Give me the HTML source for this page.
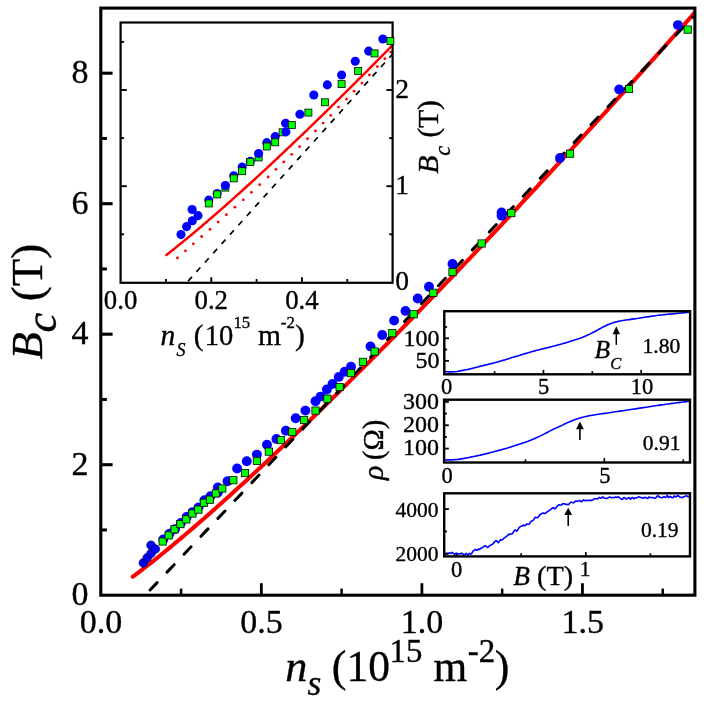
<!DOCTYPE html>
<html><head><meta charset="utf-8"><title>Bc vs ns</title>
<style>html,body{margin:0;padding:0;background:#fff;}svg{display:block;}</style>
</head><body>
<div style="will-change:transform;width:710px;height:710px;overflow:hidden">
<svg width="710" height="710" viewBox="0 0 710 710" style="font-family:'Liberation Serif',serif" fill="#000">
<style>text{stroke:#000;stroke-width:0.35px;stroke-linejoin:round}</style>
<rect x="0" y="0" width="710" height="710" fill="#fff"/>
<clipPath id="cm"><rect x="100.8" y="8.1" width="594.1" height="587.1"/></clipPath>
<g clip-path="url(#cm)">
<polyline points="132.75,576.73 134.63,575.34 136.52,573.93 138.40,572.51 140.29,571.08 142.17,569.64 144.06,568.19 145.94,566.73 147.82,565.27 149.71,563.79 151.59,562.31 153.48,560.82 155.36,559.32 157.25,557.81 159.13,556.30 161.01,554.78 162.90,553.25 164.78,551.71 166.67,550.17 168.55,548.62 170.44,547.07 172.32,545.51 174.20,543.94 176.09,542.37 177.97,540.79 179.86,539.21 181.74,537.62 183.63,536.03 185.51,534.43 187.39,532.82 189.28,531.21 191.16,529.60 193.05,527.98 194.93,526.36 196.82,524.73 198.70,523.09 200.59,521.46 202.47,519.81 204.35,518.17 206.24,516.52 208.12,514.86 210.01,513.20 211.89,511.54 213.78,509.87 215.66,508.20 217.54,506.52 219.43,504.84 221.31,503.16 223.20,501.47 225.08,499.78 226.97,498.08 228.85,496.38 230.73,494.68 232.62,492.97 234.50,491.27 236.39,489.55 238.27,487.84 240.16,486.12 242.04,484.39 243.92,482.67 245.81,480.94 247.69,479.20 249.58,477.47 251.46,475.73 253.35,473.99 255.23,472.24 257.11,470.49 259.00,468.74 260.88,466.98 262.77,465.23 264.65,463.47 266.54,461.70 268.42,459.93 270.30,458.17 272.19,456.39 274.07,454.62 275.96,452.84 277.84,451.06 279.73,449.28 281.61,447.49 283.50,445.70 285.38,443.91 287.26,442.11 289.15,440.32 291.03,438.52 292.92,436.72 294.80,434.91 296.69,433.10 298.57,431.29 300.45,429.48 302.34,427.67 304.22,425.85 306.11,424.03 307.99,422.21 309.88,420.38 311.76,418.56 313.64,416.73 315.53,414.90 317.41,413.06 319.30,411.23 321.18,409.39 323.07,407.55 324.95,405.70 326.83,403.86 328.72,402.01 330.60,400.16 332.49,398.31 334.37,396.46 336.26,394.60 338.14,392.74 340.02,390.88 341.91,389.02 343.79,387.15 345.68,385.29 347.56,383.42 349.45,381.55 351.33,379.67 353.22,377.80 355.10,375.92 356.98,374.04 358.87,372.16 360.75,370.28 362.64,368.39 364.52,366.51 366.41,364.62 368.29,362.73 370.17,360.83 372.06,358.94 373.94,357.04 375.83,355.15 377.71,353.24 379.60,351.34 381.48,349.44 383.36,347.53 385.25,345.62 387.13,343.71 389.02,341.80 390.90,339.89 392.79,337.97 394.67,336.06 396.55,334.14 398.44,332.22 400.32,330.30 402.21,328.37 404.09,326.45 405.98,324.52 407.86,322.59 409.74,320.66 411.63,318.73 413.51,316.79 415.40,314.86 417.28,312.92 419.17,310.98 421.05,309.04 422.94,307.10 424.82,305.15 426.70,303.21 428.59,301.26 430.47,299.31 432.36,297.36 434.24,295.41 436.13,293.45 438.01,291.50 439.89,289.54 441.78,287.58 443.66,285.62 445.55,283.66 447.43,281.70 449.32,279.73 451.20,277.76 453.08,275.80 454.97,273.83 456.85,271.86 458.74,269.88 460.62,267.91 462.51,265.93 464.39,263.96 466.27,261.98 468.16,260.00 470.04,258.02 471.93,256.03 473.81,254.05 475.70,252.06 477.58,250.08 479.46,248.09 481.35,246.10 483.23,244.11 485.12,242.11 487.00,240.12 488.89,238.12 490.77,236.13 492.65,234.13 494.54,232.13 496.42,230.13 498.31,228.12 500.19,226.12 502.08,224.11 503.96,222.11 505.85,220.10 507.73,218.09 509.61,216.08 511.50,214.07 513.38,212.05 515.27,210.04 517.15,208.02 519.04,206.00 520.92,203.98 522.80,201.96 524.69,199.94 526.57,197.92 528.46,195.90 530.34,193.87 532.23,191.84 534.11,189.82 535.99,187.79 537.88,185.76 539.76,183.72 541.65,181.69 543.53,179.66 545.42,177.62 547.30,175.59 549.18,173.55 551.07,171.51 552.95,169.47 554.84,167.43 556.72,165.38 558.61,163.34 560.49,161.29 562.37,159.25 564.26,157.20 566.14,155.15 568.03,153.10 569.91,151.05 571.80,149.00 573.68,146.94 575.57,144.89 577.45,142.83 579.33,140.77 581.22,138.71 583.10,136.65 584.99,134.59 586.87,132.53 588.76,130.47 590.64,128.40 592.52,126.34 594.41,124.27 596.29,122.20 598.18,120.14 600.06,118.07 601.95,115.99 603.83,113.92 605.71,111.85 607.60,109.77 609.48,107.70 611.37,105.62 613.25,103.54 615.14,101.46 617.02,99.38 618.90,97.30 620.79,95.22 622.67,93.14 624.56,91.05 626.44,88.97 628.33,86.88 630.21,84.79 632.09,82.70 633.98,80.61 635.86,78.52 637.75,76.43 639.63,74.34 641.52,72.24 643.40,70.15 645.28,68.05 647.17,65.96 649.05,63.86 650.94,61.76 652.82,59.66 654.71,57.56 656.59,55.45 658.48,53.35 660.36,51.25 662.24,49.14 664.13,47.03 666.01,44.93 667.90,42.82 669.78,40.71 671.67,38.60 673.55,36.49 675.43,34.37 677.32,32.26 679.20,30.14 681.09,28.03 682.97,25.91 684.86,23.79 686.74,21.68 688.62,19.56 690.51,17.44 692.39,15.31 694.28,13.19 696.16,11.07 698.05,8.94" fill="none" stroke="#ff0000" stroke-width="4.05" stroke-linecap="round" stroke-linejoin="round"/>
<line x1="150.11" y1="590.01" x2="769.10" y2="-63.33" stroke="#000" stroke-width="3.0" stroke-dasharray="10.2 14.46" stroke-linecap="round"/>
</g>
<rect x="100.80" y="8.10" width="594.10" height="587.10" fill="none" stroke="#000" stroke-width="3.1"/>
<line x1="181.07" y1="595.20" x2="181.07" y2="588.60" stroke="#000" stroke-width="2.5" />
<line x1="261.35" y1="595.20" x2="261.35" y2="583.20" stroke="#000" stroke-width="2.8" />
<line x1="341.62" y1="595.20" x2="341.62" y2="588.60" stroke="#000" stroke-width="2.5" />
<line x1="421.90" y1="595.20" x2="421.90" y2="583.20" stroke="#000" stroke-width="2.8" />
<line x1="502.18" y1="595.20" x2="502.18" y2="588.60" stroke="#000" stroke-width="2.5" />
<line x1="582.45" y1="595.20" x2="582.45" y2="583.20" stroke="#000" stroke-width="2.8" />
<line x1="662.73" y1="595.20" x2="662.73" y2="588.60" stroke="#000" stroke-width="2.5" />
<line x1="100.80" y1="529.95" x2="106.90" y2="529.95" stroke="#000" stroke-width="3.0" />
<line x1="100.80" y1="464.70" x2="112.60" y2="464.70" stroke="#000" stroke-width="3.1" />
<line x1="100.80" y1="399.45" x2="106.90" y2="399.45" stroke="#000" stroke-width="3.0" />
<line x1="100.80" y1="334.20" x2="112.60" y2="334.20" stroke="#000" stroke-width="3.1" />
<line x1="100.80" y1="268.95" x2="106.90" y2="268.95" stroke="#000" stroke-width="3.0" />
<line x1="100.80" y1="203.70" x2="112.60" y2="203.70" stroke="#000" stroke-width="3.1" />
<line x1="100.80" y1="138.45" x2="106.90" y2="138.45" stroke="#000" stroke-width="3.0" />
<line x1="100.80" y1="73.20" x2="112.60" y2="73.20" stroke="#000" stroke-width="3.1" />
<text x="101.00" y="632.90" font-size="34" text-anchor="middle" >0.0</text>
<text x="261.55" y="632.90" font-size="34" text-anchor="middle" >0.5</text>
<text x="422.10" y="632.90" font-size="34" text-anchor="middle" >1.0</text>
<text x="582.65" y="632.90" font-size="34" text-anchor="middle" >1.5</text>
<text x="88.40" y="605.20" font-size="34" text-anchor="end" >0</text>
<text x="88.40" y="474.70" font-size="34" text-anchor="end" >2</text>
<text x="88.40" y="344.20" font-size="34" text-anchor="end" >4</text>
<text x="88.40" y="213.70" font-size="34" text-anchor="end" >6</text>
<text x="88.40" y="83.20" font-size="34" text-anchor="end" >8</text>
<text x="285.18" y="680.60" font-size="44.2" font-style="italic">n</text>
<text x="307.41" y="694.60" font-size="35.5" font-style="italic">s</text>
<text x="331.72" y="680.60" font-size="44">(</text>
<text x="346.57" y="680.60" font-size="43.5">10</text>
<text x="389.60" y="661.70" font-size="32.8">15</text>
<text x="433.50" y="680.50" font-size="43.4">m</text>
<text x="467.75" y="661.60" font-size="33">-2</text>
<text x="494.63" y="680.60" font-size="44">)</text>
<text transform="translate(42.30,359.59) rotate(-90)" font-size="44.6" font-style="italic">B</text>
<text transform="translate(56.00,332.47) rotate(-90)" font-size="44.5" font-style="italic">c</text>
<text transform="translate(41.90,301.31) rotate(-90)" font-size="45.2">(T)</text>
<circle cx="143.35" cy="562.90" r="4.3" fill="#0000ff" stroke="#000040" stroke-width="0.7"/>
<circle cx="147.20" cy="557.80" r="4.3" fill="#0000ff" stroke="#000040" stroke-width="0.7"/>
<circle cx="151.00" cy="553.45" r="4.3" fill="#0000ff" stroke="#000040" stroke-width="0.7"/>
<circle cx="151.00" cy="545.30" r="4.3" fill="#0000ff" stroke="#000040" stroke-width="0.7"/>
<circle cx="155.35" cy="549.05" r="4.3" fill="#0000ff" stroke="#000040" stroke-width="0.7"/>
<circle cx="163.30" cy="539.40" r="4.95" fill="#0000ff"/>
<circle cx="169.50" cy="533.70" r="4.95" fill="#0000ff"/>
<circle cx="175.10" cy="529.10" r="4.95" fill="#0000ff"/>
<circle cx="180.90" cy="523.00" r="4.95" fill="#0000ff"/>
<circle cx="186.70" cy="516.90" r="4.95" fill="#0000ff"/>
<circle cx="192.60" cy="512.10" r="4.95" fill="#0000ff"/>
<circle cx="198.50" cy="507.40" r="4.95" fill="#0000ff"/>
<circle cx="204.50" cy="500.20" r="4.95" fill="#0000ff"/>
<circle cx="210.50" cy="496.20" r="4.95" fill="#0000ff"/>
<circle cx="217.80" cy="492.60" r="4.95" fill="#0000ff"/>
<circle cx="217.80" cy="487.40" r="4.95" fill="#0000ff"/>
<circle cx="227.50" cy="481.20" r="4.95" fill="#0000ff"/>
<circle cx="237.10" cy="468.50" r="4.95" fill="#0000ff"/>
<circle cx="246.80" cy="461.20" r="4.95" fill="#0000ff"/>
<circle cx="256.90" cy="454.60" r="4.95" fill="#0000ff"/>
<circle cx="267.00" cy="444.70" r="4.95" fill="#0000ff"/>
<circle cx="276.40" cy="438.90" r="4.95" fill="#0000ff"/>
<circle cx="285.90" cy="430.80" r="4.95" fill="#0000ff"/>
<circle cx="295.70" cy="418.20" r="4.95" fill="#0000ff"/>
<circle cx="305.40" cy="410.60" r="4.95" fill="#0000ff"/>
<circle cx="315.50" cy="401.20" r="4.95" fill="#0000ff"/>
<circle cx="320.60" cy="396.60" r="4.95" fill="#0000ff"/>
<circle cx="326.90" cy="389.50" r="4.95" fill="#0000ff"/>
<circle cx="332.50" cy="384.00" r="4.95" fill="#0000ff"/>
<circle cx="338.80" cy="376.90" r="4.95" fill="#0000ff"/>
<circle cx="344.70" cy="371.80" r="4.95" fill="#0000ff"/>
<circle cx="351.00" cy="366.70" r="4.95" fill="#0000ff"/>
<circle cx="370.50" cy="346.40" r="4.95" fill="#0000ff"/>
<circle cx="382.20" cy="335.00" r="4.95" fill="#0000ff"/>
<circle cx="394.10" cy="320.60" r="4.95" fill="#0000ff"/>
<circle cx="405.50" cy="310.90" r="4.95" fill="#0000ff"/>
<circle cx="417.70" cy="298.50" r="4.95" fill="#0000ff"/>
<circle cx="429.00" cy="286.80" r="4.95" fill="#0000ff"/>
<circle cx="452.50" cy="264.00" r="4.95" fill="#0000ff"/>
<circle cx="501.60" cy="212.50" r="4.95" fill="#0000ff"/>
<circle cx="501.60" cy="215.80" r="4.95" fill="#0000ff"/>
<circle cx="560.00" cy="158.00" r="4.95" fill="#0000ff"/>
<circle cx="619.20" cy="89.40" r="4.95" fill="#0000ff"/>
<circle cx="677.90" cy="25.10" r="4.95" fill="#0000ff"/>
<rect x="159.07" y="537.88" width="7.25" height="7.25" fill="#00ff00" stroke="#000" stroke-width="0.8"/>
<rect x="165.07" y="531.77" width="7.25" height="7.25" fill="#00ff00" stroke="#000" stroke-width="0.8"/>
<rect x="170.97" y="525.67" width="7.25" height="7.25" fill="#00ff00" stroke="#000" stroke-width="0.8"/>
<rect x="176.78" y="520.48" width="7.25" height="7.25" fill="#00ff00" stroke="#000" stroke-width="0.8"/>
<rect x="182.68" y="515.77" width="7.25" height="7.25" fill="#00ff00" stroke="#000" stroke-width="0.8"/>
<rect x="188.78" y="509.88" width="7.25" height="7.25" fill="#00ff00" stroke="#000" stroke-width="0.8"/>
<rect x="194.68" y="505.98" width="7.25" height="7.25" fill="#00ff00" stroke="#000" stroke-width="0.8"/>
<rect x="200.28" y="499.18" width="7.25" height="7.25" fill="#00ff00" stroke="#000" stroke-width="0.8"/>
<rect x="206.28" y="496.07" width="7.25" height="7.25" fill="#00ff00" stroke="#000" stroke-width="0.8"/>
<rect x="212.28" y="489.77" width="7.25" height="7.25" fill="#00ff00" stroke="#000" stroke-width="0.8"/>
<rect x="218.68" y="484.88" width="7.25" height="7.25" fill="#00ff00" stroke="#000" stroke-width="0.8"/>
<rect x="229.68" y="476.57" width="7.25" height="7.25" fill="#00ff00" stroke="#000" stroke-width="0.8"/>
<rect x="241.38" y="469.48" width="7.25" height="7.25" fill="#00ff00" stroke="#000" stroke-width="0.8"/>
<rect x="253.27" y="457.27" width="7.25" height="7.25" fill="#00ff00" stroke="#000" stroke-width="0.8"/>
<rect x="265.18" y="447.98" width="7.25" height="7.25" fill="#00ff00" stroke="#000" stroke-width="0.8"/>
<rect x="277.27" y="436.48" width="7.25" height="7.25" fill="#00ff00" stroke="#000" stroke-width="0.8"/>
<rect x="288.68" y="428.38" width="7.25" height="7.25" fill="#00ff00" stroke="#000" stroke-width="0.8"/>
<rect x="300.48" y="416.38" width="7.25" height="7.25" fill="#00ff00" stroke="#000" stroke-width="0.8"/>
<rect x="311.88" y="406.98" width="7.25" height="7.25" fill="#00ff00" stroke="#000" stroke-width="0.8"/>
<rect x="323.77" y="395.07" width="7.25" height="7.25" fill="#00ff00" stroke="#000" stroke-width="0.8"/>
<rect x="335.98" y="383.38" width="7.25" height="7.25" fill="#00ff00" stroke="#000" stroke-width="0.8"/>
<rect x="347.38" y="369.48" width="7.25" height="7.25" fill="#00ff00" stroke="#000" stroke-width="0.8"/>
<rect x="359.27" y="358.27" width="7.25" height="7.25" fill="#00ff00" stroke="#000" stroke-width="0.8"/>
<rect x="370.98" y="347.88" width="7.25" height="7.25" fill="#00ff00" stroke="#000" stroke-width="0.8"/>
<rect x="388.68" y="329.57" width="7.25" height="7.25" fill="#00ff00" stroke="#000" stroke-width="0.8"/>
<rect x="409.98" y="310.57" width="7.25" height="7.25" fill="#00ff00" stroke="#000" stroke-width="0.8"/>
<rect x="429.68" y="289.18" width="7.25" height="7.25" fill="#00ff00" stroke="#000" stroke-width="0.8"/>
<rect x="448.88" y="268.48" width="7.25" height="7.25" fill="#00ff00" stroke="#000" stroke-width="0.8"/>
<rect x="477.98" y="239.88" width="7.25" height="7.25" fill="#00ff00" stroke="#000" stroke-width="0.8"/>
<rect x="507.68" y="209.47" width="7.25" height="7.25" fill="#00ff00" stroke="#000" stroke-width="0.8"/>
<rect x="566.48" y="150.07" width="7.25" height="7.25" fill="#00ff00" stroke="#000" stroke-width="0.8"/>
<rect x="625.38" y="85.38" width="7.25" height="7.25" fill="#00ff00" stroke="#000" stroke-width="0.8"/>
<rect x="684.08" y="25.98" width="7.25" height="7.25" fill="#00ff00" stroke="#000" stroke-width="0.8"/>
<rect x="120.6" y="22.5" width="272.0" height="260.3" fill="#fff"/>
<clipPath id="ci"><rect x="120.6" y="22.5" width="272.0" height="260.3"/></clipPath>
<g clip-path="url(#ci)">
<polyline points="166.38,255.00 168.31,253.49 170.24,251.98 172.16,250.45 174.09,248.92 176.02,247.38 177.94,245.83 179.87,244.28 181.80,242.71 183.72,241.14 185.65,239.56 187.58,237.98 189.50,236.38 191.43,234.78 193.35,233.18 195.28,231.57 197.21,229.95 199.13,228.32 201.06,226.69 202.99,225.05 204.91,223.41 206.84,221.76 208.77,220.11 210.69,218.45 212.62,216.78 214.55,215.11 216.47,213.44 218.40,211.76 220.33,210.07 222.25,208.38 224.18,206.69 226.11,204.99 228.03,203.28 229.96,201.57 231.89,199.86 233.81,198.14 235.74,196.42 237.66,194.69 239.59,192.96 241.52,191.23 243.44,189.49 245.37,187.74 247.30,186.00 249.22,184.24 251.15,182.49 253.08,180.73 255.00,178.96 256.93,177.20 258.86,175.43 260.78,173.65 262.71,171.87 264.64,170.09 266.56,168.30 268.49,166.52 270.42,164.72 272.34,162.93 274.27,161.13 276.20,159.32 278.12,157.52 280.05,155.71 281.97,153.89 283.90,152.08 285.83,150.26 287.75,148.43 289.68,146.61 291.61,144.78 293.53,142.95 295.46,141.11 297.39,139.27 299.31,137.43 301.24,135.59 303.17,133.74 305.09,131.89 307.02,130.03 308.95,128.18 310.87,126.32 312.80,124.46 314.73,122.59 316.65,120.72 318.58,118.85 320.51,116.98 322.43,115.11 324.36,113.23 326.28,111.35 328.21,109.46 330.14,107.58 332.06,105.69 333.99,103.79 335.92,101.90 337.84,100.00 339.77,98.10 341.70,96.20 343.62,94.30 345.55,92.39 347.48,90.48 349.40,88.57 351.33,86.66 353.26,84.74 355.18,82.82 357.11,80.90 359.04,78.97 360.96,77.05 362.89,75.12 364.82,73.19 366.74,71.26 368.67,69.32 370.59,67.38 372.52,65.44 374.45,63.50 376.37,61.56 378.30,59.61 380.23,57.66 382.15,55.71 384.08,53.76 386.01,51.80 387.93,49.84 389.86,47.88 391.79,45.92 393.71,43.96 395.64,41.99 397.57,40.02" fill="none" stroke="#ff0000" stroke-width="2.5" stroke-linecap="round"/>
<circle cx="177.45" cy="257.95" r="1.4" fill="#ff0000"/>
<circle cx="185.40" cy="250.78" r="1.4" fill="#ff0000"/>
<circle cx="193.30" cy="243.79" r="1.4" fill="#ff0000"/>
<circle cx="201.60" cy="236.50" r="1.4" fill="#ff0000"/>
<circle cx="210.00" cy="229.39" r="1.4" fill="#ff0000"/>
<circle cx="218.20" cy="222.07" r="1.4" fill="#ff0000"/>
<circle cx="226.40" cy="214.73" r="1.4" fill="#ff0000"/>
<circle cx="234.90" cy="207.21" r="1.4" fill="#ff0000"/>
<circle cx="243.30" cy="199.79" r="1.4" fill="#ff0000"/>
<circle cx="251.40" cy="192.33" r="1.4" fill="#ff0000"/>
<circle cx="259.70" cy="184.68" r="1.4" fill="#ff0000"/>
<circle cx="268.10" cy="177.00" r="1.4" fill="#ff0000"/>
<circle cx="275.90" cy="169.37" r="1.4" fill="#ff0000"/>
<circle cx="283.80" cy="161.90" r="1.4" fill="#ff0000"/>
<circle cx="291.70" cy="154.34" r="1.4" fill="#ff0000"/>
<circle cx="299.60" cy="146.70" r="1.4" fill="#ff0000"/>
<circle cx="307.50" cy="138.76" r="1.4" fill="#ff0000"/>
<circle cx="315.40" cy="130.89" r="1.4" fill="#ff0000"/>
<circle cx="323.20" cy="123.03" r="1.4" fill="#ff0000"/>
<circle cx="330.70" cy="115.39" r="1.4" fill="#ff0000"/>
<circle cx="338.60" cy="107.10" r="1.4" fill="#ff0000"/>
<circle cx="346.50" cy="99.07" r="1.4" fill="#ff0000"/>
<circle cx="354.10" cy="91.15" r="1.4" fill="#ff0000"/>
<circle cx="362.00" cy="83.04" r="1.4" fill="#ff0000"/>
<circle cx="369.40" cy="74.95" r="1.4" fill="#ff0000"/>
<circle cx="377.30" cy="66.61" r="1.4" fill="#ff0000"/>
<circle cx="384.80" cy="58.64" r="1.4" fill="#ff0000"/>
<circle cx="390.80" cy="52.05" r="1.4" fill="#ff0000"/>
<line x1="179.69" y1="290.47" x2="400.57" y2="45.30" stroke="#000" stroke-width="1.7" stroke-dasharray="5.8 6.7299999999999995"/>
</g>
<rect x="120.60" y="22.50" width="272.00" height="260.30" fill="none" stroke="#000" stroke-width="2.2"/>
<line x1="165.93" y1="282.80" x2="165.93" y2="279.00" stroke="#000" stroke-width="1.8" />
<line x1="211.26" y1="282.80" x2="211.26" y2="277.20" stroke="#000" stroke-width="1.9" />
<line x1="256.59" y1="282.80" x2="256.59" y2="279.00" stroke="#000" stroke-width="1.8" />
<line x1="301.92" y1="282.80" x2="301.92" y2="277.20" stroke="#000" stroke-width="1.9" />
<line x1="347.25" y1="282.80" x2="347.25" y2="279.00" stroke="#000" stroke-width="1.8" />
<line x1="120.60" y1="234.30" x2="124.00" y2="234.30" stroke="#000" stroke-width="1.9" />
<line x1="392.60" y1="234.30" x2="389.20" y2="234.30" stroke="#000" stroke-width="1.9" />
<line x1="120.60" y1="186.20" x2="126.80" y2="186.20" stroke="#000" stroke-width="1.9" />
<line x1="392.60" y1="186.20" x2="386.40" y2="186.20" stroke="#000" stroke-width="1.9" />
<line x1="120.60" y1="138.10" x2="124.00" y2="138.10" stroke="#000" stroke-width="1.9" />
<line x1="392.60" y1="138.10" x2="389.20" y2="138.10" stroke="#000" stroke-width="1.9" />
<line x1="120.60" y1="90.00" x2="126.80" y2="90.00" stroke="#000" stroke-width="1.9" />
<line x1="392.60" y1="90.00" x2="386.40" y2="90.00" stroke="#000" stroke-width="1.9" />
<line x1="120.60" y1="41.90" x2="124.00" y2="41.90" stroke="#000" stroke-width="1.9" />
<line x1="392.60" y1="41.90" x2="389.20" y2="41.90" stroke="#000" stroke-width="1.9" />
<text x="120.60" y="309.30" font-size="26.8" text-anchor="middle" >0.0</text>
<text x="211.26" y="309.30" font-size="26.8" text-anchor="middle" >0.2</text>
<text x="301.92" y="309.30" font-size="26.8" text-anchor="middle" >0.4</text>
<text x="395.20" y="290.30" font-size="27.5" text-anchor="start" >0</text>
<text x="395.20" y="194.10" font-size="27.5" text-anchor="start" >1</text>
<text x="395.20" y="97.90" font-size="27.5" text-anchor="start" >2</text>
<text x="160.61" y="344.50" font-size="29.5" font-style="italic">n</text>
<text x="176.44" y="355.70" font-size="18" font-style="italic">S</text>
<text x="193.72" y="344.50" font-size="29.5">(</text>
<text x="204.79" y="344.50" font-size="28.6">10</text>
<text x="233.39" y="328.20" font-size="16.8">15</text>
<text x="258.06" y="344.50" font-size="29.6">m</text>
<text x="280.85" y="327.60" font-size="16.8">-2</text>
<text x="295.01" y="344.50" font-size="29.5">)</text>
<text transform="translate(438.00,173.71) rotate(-90)" font-size="29.8" font-style="italic">B</text>
<text transform="translate(450.00,155.87) rotate(-90)" font-size="22.5" font-style="italic">c</text>
<text transform="translate(437.90,137.62) rotate(-90)" font-size="29.4">(T)</text>
<circle cx="181.00" cy="234.50" r="4.55" fill="#0000ff"/>
<circle cx="186.60" cy="226.60" r="4.55" fill="#0000ff"/>
<circle cx="192.35" cy="220.70" r="4.55" fill="#0000ff"/>
<circle cx="192.10" cy="209.50" r="4.55" fill="#0000ff"/>
<circle cx="198.00" cy="215.60" r="4.55" fill="#0000ff"/>
<circle cx="208.80" cy="200.10" r="4.55" fill="#0000ff"/>
<circle cx="217.20" cy="193.60" r="4.55" fill="#0000ff"/>
<circle cx="233.75" cy="175.80" r="4.55" fill="#0000ff"/>
<circle cx="242.20" cy="167.00" r="4.55" fill="#0000ff"/>
<circle cx="250.30" cy="161.40" r="4.55" fill="#0000ff"/>
<circle cx="266.80" cy="142.60" r="4.55" fill="#0000ff"/>
<circle cx="275.20" cy="136.60" r="4.55" fill="#0000ff"/>
<circle cx="285.60" cy="123.30" r="4.55" fill="#0000ff"/>
<circle cx="299.90" cy="114.30" r="4.55" fill="#0000ff"/>
<circle cx="313.80" cy="95.00" r="4.55" fill="#0000ff"/>
<circle cx="327.30" cy="84.90" r="4.55" fill="#0000ff"/>
<circle cx="341.60" cy="75.00" r="4.55" fill="#0000ff"/>
<circle cx="355.25" cy="61.25" r="4.55" fill="#0000ff"/>
<circle cx="368.70" cy="51.10" r="4.55" fill="#0000ff"/>
<circle cx="382.85" cy="39.00" r="4.55" fill="#0000ff"/>
<rect x="205.30" y="199.95" width="7.0" height="7.0" fill="#00ff00" stroke="#000" stroke-width="0.8"/>
<rect x="213.70" y="190.90" width="7.0" height="7.0" fill="#00ff00" stroke="#000" stroke-width="0.8"/>
<rect x="221.90" y="184.10" width="7.0" height="7.0" fill="#00ff00" stroke="#000" stroke-width="0.8"/>
<rect x="230.25" y="174.90" width="7.0" height="7.0" fill="#00ff00" stroke="#000" stroke-width="0.8"/>
<rect x="238.60" y="167.70" width="7.0" height="7.0" fill="#00ff00" stroke="#000" stroke-width="0.8"/>
<rect x="246.80" y="158.40" width="7.0" height="7.0" fill="#00ff00" stroke="#000" stroke-width="0.8"/>
<rect x="255.10" y="153.90" width="7.0" height="7.0" fill="#00ff00" stroke="#000" stroke-width="0.8"/>
<rect x="263.30" y="143.00" width="7.0" height="7.0" fill="#00ff00" stroke="#000" stroke-width="0.8"/>
<rect x="271.70" y="138.80" width="7.0" height="7.0" fill="#00ff00" stroke="#000" stroke-width="0.8"/>
<rect x="279.10" y="128.80" width="7.0" height="7.0" fill="#00ff00" stroke="#000" stroke-width="0.8"/>
<rect x="288.30" y="121.50" width="7.0" height="7.0" fill="#00ff00" stroke="#000" stroke-width="0.8"/>
<rect x="304.90" y="109.10" width="7.0" height="7.0" fill="#00ff00" stroke="#000" stroke-width="0.8"/>
<rect x="321.50" y="98.80" width="7.0" height="7.0" fill="#00ff00" stroke="#000" stroke-width="0.8"/>
<rect x="338.10" y="80.60" width="7.0" height="7.0" fill="#00ff00" stroke="#000" stroke-width="0.8"/>
<rect x="354.60" y="67.50" width="7.0" height="7.0" fill="#00ff00" stroke="#000" stroke-width="0.8"/>
<rect x="371.05" y="49.90" width="7.0" height="7.0" fill="#00ff00" stroke="#000" stroke-width="0.8"/>
<rect x="386.90" y="37.40" width="7.0" height="7.0" fill="#00ff00" stroke="#000" stroke-width="0.8"/>
<circle cx="225.40" cy="185.50" r="4.55" fill="#0000ff"/>
<circle cx="258.60" cy="153.50" r="4.55" fill="#0000ff"/>
<circle cx="285.90" cy="131.90" r="4.55" fill="#0000ff"/>
<rect x="444.3" y="311.2" width="245.8" height="63.10000000000002" fill="#fff"/>
<polyline points="444.60,371.30 446.14,371.60 447.68,371.83 449.22,371.90 450.75,371.89 452.29,371.86 453.83,371.82 455.37,371.75 456.91,371.52 458.45,371.21 459.98,370.90 461.52,370.63 463.06,370.36 464.60,370.08 466.14,369.78 467.68,369.46 469.21,369.12 470.75,368.76 472.29,368.37 473.83,367.98 475.37,367.58 476.91,367.17 478.44,366.77 479.98,366.38 481.52,366.00 483.06,365.63 484.60,365.26 486.14,364.89 487.67,364.52 489.21,364.14 490.75,363.77 492.29,363.38 493.83,362.98 495.37,362.57 496.90,362.15 498.44,361.72 499.98,361.28 501.52,360.83 503.06,360.37 504.60,359.91 506.13,359.45 507.67,358.98 509.21,358.52 510.75,358.05 512.29,357.58 513.83,357.10 515.36,356.62 516.90,356.14 518.44,355.67 519.98,355.21 521.52,354.75 523.06,354.28 524.59,353.82 526.13,353.37 527.67,352.91 529.21,352.46 530.75,352.01 532.29,351.57 533.83,351.14 535.36,350.72 536.90,350.30 538.44,349.90 539.98,349.50 541.52,349.12 543.06,348.75 544.59,348.38 546.13,348.01 547.67,347.64 549.21,347.26 550.75,346.88 552.29,346.49 553.82,346.09 555.36,345.68 556.90,345.27 558.44,344.85 559.98,344.43 561.52,344.00 563.05,343.56 564.59,343.12 566.13,342.67 567.67,342.22 569.21,341.76 570.75,341.29 572.28,340.81 573.82,340.32 575.36,339.82 576.90,339.31 578.44,338.77 579.98,338.22 581.51,337.63 583.05,337.03 584.59,336.40 586.13,335.75 587.67,335.07 589.21,334.36 590.74,333.61 592.28,332.83 593.82,332.03 595.36,331.23 596.90,330.42 598.44,329.57 599.97,328.70 601.51,327.84 603.05,327.01 604.59,326.26 606.13,325.54 607.67,324.84 609.21,324.18 610.74,323.57 612.28,323.03 613.82,322.56 615.36,322.14 616.90,321.75 618.44,321.40 619.97,321.08 621.51,320.78 623.05,320.51 624.59,320.27 626.13,320.04 627.67,319.82 629.20,319.60 630.74,319.37 632.28,319.14 633.82,318.91 635.36,318.68 636.90,318.46 638.43,318.23 639.97,318.00 641.51,317.78 643.05,317.54 644.59,317.31 646.13,317.07 647.66,316.84 649.20,316.60 650.74,316.37 652.28,316.14 653.82,315.93 655.36,315.71 656.89,315.51 658.43,315.32 659.97,315.14 661.51,314.96 663.05,314.80 664.59,314.63 666.12,314.47 667.66,314.32 669.20,314.17 670.74,314.02 672.28,313.87 673.82,313.73 675.35,313.58 676.89,313.43 678.43,313.29 679.97,313.14 681.51,313.00 683.05,312.85 684.58,312.71 686.12,312.57 687.66,312.44 689.20,312.30" fill="none" stroke="#0000ff" stroke-width="1.6" stroke-linejoin="round"/>
<rect x="444.30" y="311.20" width="245.80" height="63.10" fill="none" stroke="#000" stroke-width="2.4"/>
<rect x="444.1" y="399.7" width="245.89999999999998" height="62.80000000000001" fill="#fff"/>
<polyline points="444.50,459.90 446.04,459.90 447.58,459.90 449.12,459.90 450.66,459.90 452.19,459.88 453.73,459.80 455.27,459.66 456.81,459.51 458.35,459.34 459.89,459.12 461.43,458.87 462.97,458.62 464.51,458.36 466.05,458.07 467.58,457.78 469.12,457.47 470.66,457.15 472.20,456.83 473.74,456.51 475.28,456.19 476.82,455.87 478.36,455.53 479.90,455.20 481.44,454.85 482.97,454.50 484.51,454.14 486.05,453.77 487.59,453.39 489.13,453.00 490.67,452.60 492.21,452.19 493.75,451.78 495.29,451.37 496.83,450.96 498.36,450.55 499.90,450.14 501.44,449.73 502.98,449.31 504.52,448.88 506.06,448.45 507.60,448.00 509.14,447.54 510.68,447.07 512.22,446.59 513.75,446.10 515.29,445.60 516.83,445.09 518.37,444.58 519.91,444.06 521.45,443.54 522.99,443.02 524.53,442.49 526.07,441.95 527.61,441.39 529.14,440.82 530.68,440.22 532.22,439.61 533.76,438.96 535.30,438.29 536.84,437.59 538.38,436.87 539.92,436.14 541.46,435.40 543.00,434.66 544.53,433.88 546.07,433.07 547.61,432.25 549.15,431.42 550.69,430.61 552.23,429.82 553.77,429.07 555.31,428.37 556.85,427.69 558.39,427.02 559.92,426.33 561.46,425.61 563.00,424.85 564.54,424.09 566.08,423.33 567.62,422.60 569.16,421.91 570.70,421.28 572.24,420.67 573.78,420.08 575.31,419.52 576.85,418.99 578.39,418.49 579.93,418.03 581.47,417.60 583.01,417.19 584.55,416.80 586.09,416.44 587.63,416.10 589.17,415.78 590.70,415.49 592.24,415.22 593.78,414.96 595.32,414.71 596.86,414.48 598.40,414.25 599.94,414.03 601.48,413.81 603.02,413.60 604.56,413.38 606.09,413.17 607.63,412.95 609.17,412.72 610.71,412.49 612.25,412.26 613.79,412.03 615.33,411.81 616.87,411.58 618.41,411.36 619.95,411.13 621.48,410.91 623.02,410.68 624.56,410.46 626.10,410.23 627.64,410.00 629.18,409.77 630.72,409.54 632.26,409.31 633.80,409.07 635.34,408.84 636.87,408.60 638.41,408.37 639.95,408.13 641.49,407.89 643.03,407.66 644.57,407.42 646.11,407.19 647.65,406.96 649.19,406.73 650.73,406.50 652.26,406.27 653.80,406.03 655.34,405.80 656.88,405.57 658.42,405.34 659.96,405.11 661.50,404.89 663.04,404.67 664.58,404.44 666.12,404.23 667.65,404.02 669.19,403.81 670.73,403.60 672.27,403.40 673.81,403.19 675.35,402.99 676.89,402.80 678.43,402.60 679.97,402.41 681.51,402.22 683.04,402.03 684.58,401.84 686.12,401.66 687.66,401.48 689.20,401.30" fill="none" stroke="#0000ff" stroke-width="1.6" stroke-linejoin="round"/>
<rect x="444.10" y="399.70" width="245.90" height="62.80" fill="none" stroke="#000" stroke-width="2.4"/>
<rect x="444.2" y="493.3" width="245.8" height="63.099999999999966" fill="#fff"/>
<polyline points="444.20,554.27 445.35,553.66 446.50,553.16 447.65,553.61 448.80,553.01 449.95,553.08 451.10,553.42 452.25,552.33 453.40,553.48 454.55,554.32 455.70,553.42 456.85,553.30 458.00,554.01 459.15,553.91 460.30,553.77 461.45,553.13 462.60,554.05 463.75,554.59 464.90,554.49 466.05,553.27 467.20,554.42 468.35,554.44 469.50,553.24 470.65,554.25 471.80,553.33 472.95,551.02 474.10,550.57 475.25,549.28 476.40,550.22 477.55,550.12 478.70,548.90 479.85,549.50 481.00,548.02 482.15,547.94 483.30,546.66 484.45,546.10 485.60,545.83 486.75,546.86 487.90,547.62 489.05,545.92 490.20,545.38 491.35,544.69 492.50,544.27 493.65,543.19 494.80,541.52 495.95,540.51 497.10,541.26 498.25,542.65 499.40,541.46 500.55,539.54 501.70,540.16 502.85,539.40 504.00,538.05 505.15,537.47 506.30,536.64 507.45,535.73 508.60,534.26 509.75,534.37 510.90,534.01 512.05,533.87 513.20,532.62 514.35,530.29 515.50,530.12 516.65,531.21 517.80,529.80 518.95,527.92 520.10,526.80 521.25,526.08 522.40,525.95 523.55,525.03 524.70,525.77 525.85,525.01 527.00,523.91 528.15,524.21 529.30,524.01 530.45,522.15 531.60,521.03 532.75,520.69 533.90,519.44 535.05,517.29 536.20,517.47 537.35,517.79 538.50,516.82 539.65,515.03 540.80,514.25 541.95,513.57 543.10,512.93 544.25,513.41 545.40,513.53 546.55,512.45 547.70,511.43 548.85,510.88 550.00,509.90 551.15,509.02 552.30,508.05 553.45,507.66 554.60,508.84 555.75,508.33 556.90,506.54 558.05,505.52 559.20,504.75 560.35,504.95 561.50,505.05 562.65,503.58 563.80,503.91 564.95,503.83 566.10,504.57 567.25,504.38 568.40,504.67 569.55,503.50 570.70,502.30 571.85,502.30 573.00,502.69 574.15,502.47 575.30,500.96 576.45,501.04 577.60,501.36 578.75,500.88 579.90,500.45 581.05,501.76 582.20,501.17 583.35,499.91 584.50,500.53 585.65,500.63 586.80,500.15 587.95,500.47 589.10,500.48 590.25,500.15 591.40,500.37 592.55,500.05 593.70,499.09 594.85,498.80 596.00,498.69 597.15,498.99 598.30,498.35 599.45,497.27 600.60,498.13 601.75,497.87 602.90,496.86 604.05,498.05 605.20,498.19 606.35,498.49 607.50,498.24 608.65,497.41 609.80,497.05 610.95,497.42 612.10,497.81 613.25,497.51 614.40,497.61 615.55,496.98 616.70,497.46 617.85,496.87 619.00,497.19 620.15,498.36 621.30,498.95 622.45,499.49 623.60,497.63 624.75,497.85 625.90,499.02 627.05,499.04 628.20,497.72 629.35,497.84 630.50,499.28 631.65,497.68 632.80,497.65 633.95,498.80 635.10,497.88 636.25,497.99 637.40,497.41 638.55,496.92 639.70,497.00 640.85,497.62 642.00,497.81 643.15,498.34 644.30,497.50 645.45,497.27 646.60,498.25 647.75,498.39 648.90,496.99 650.05,497.52 651.20,497.51 652.35,497.59 653.50,497.82 654.65,498.33 655.80,497.93 656.95,496.19 658.10,495.69 659.25,497.17 660.40,497.29 661.55,497.76 662.70,497.70 663.85,496.68 665.00,497.43 666.15,496.90 667.30,495.37 668.45,497.52 669.60,496.54 670.75,496.64 671.90,497.81 673.05,497.41 674.20,495.93 675.35,496.95 676.50,496.41 677.65,495.53 678.80,496.19 679.95,497.29 681.10,497.41 682.25,497.54 683.40,496.90 684.55,496.52 685.70,495.91 686.85,495.96 688.00,496.73 689.15,496.38" fill="none" stroke="#0000ff" stroke-width="1.6" stroke-linejoin="round"/>
<rect x="444.20" y="493.30" width="245.80" height="63.10" fill="none" stroke="#000" stroke-width="2.4"/>
<line x1="494.57" y1="374.30" x2="494.57" y2="371.20" stroke="#000" stroke-width="1.7" />
<line x1="543.45" y1="374.30" x2="543.45" y2="369.90" stroke="#000" stroke-width="1.7" />
<line x1="592.33" y1="374.30" x2="592.33" y2="371.20" stroke="#000" stroke-width="1.7" />
<line x1="641.20" y1="374.30" x2="641.20" y2="369.90" stroke="#000" stroke-width="1.7" />
<line x1="444.30" y1="360.84" x2="449.00" y2="360.84" stroke="#000" stroke-width="1.8" />
<line x1="444.30" y1="349.57" x2="447.10" y2="349.57" stroke="#000" stroke-width="1.8" />
<line x1="444.30" y1="338.30" x2="449.00" y2="338.30" stroke="#000" stroke-width="1.8" />
<line x1="444.30" y1="327.03" x2="447.10" y2="327.03" stroke="#000" stroke-width="1.8" />
<text x="439.60" y="345.90" font-size="24" text-anchor="end" >100</text>
<text x="439.60" y="368.40" font-size="24" text-anchor="end" >50</text>
<text x="446.70" y="394.10" font-size="22.5" text-anchor="middle" >0</text>
<text x="543.70" y="394.10" font-size="22.5" text-anchor="middle" >5</text>
<text x="642.00" y="394.10" font-size="22.5" text-anchor="middle" >10</text>
<line x1="525.48" y1="462.50" x2="525.48" y2="459.40" stroke="#000" stroke-width="1.7" />
<line x1="604.35" y1="462.50" x2="604.35" y2="458.10" stroke="#000" stroke-width="1.7" />
<line x1="683.23" y1="462.50" x2="683.23" y2="459.40" stroke="#000" stroke-width="1.7" />
<line x1="444.10" y1="448.60" x2="448.80" y2="448.60" stroke="#000" stroke-width="1.8" />
<line x1="444.10" y1="436.93" x2="446.90" y2="436.93" stroke="#000" stroke-width="1.8" />
<line x1="444.10" y1="425.25" x2="448.80" y2="425.25" stroke="#000" stroke-width="1.8" />
<line x1="444.10" y1="413.58" x2="446.90" y2="413.58" stroke="#000" stroke-width="1.8" />
<line x1="444.10" y1="401.90" x2="448.80" y2="401.90" stroke="#000" stroke-width="1.8" />
<text x="438.90" y="408.70" font-size="24" text-anchor="end" >300</text>
<text x="438.90" y="432.00" font-size="24" text-anchor="end" >200</text>
<text x="438.90" y="455.20" font-size="24" text-anchor="end" >100</text>
<text x="447.10" y="483.40" font-size="22.5" text-anchor="middle" >0</text>
<text x="604.90" y="483.40" font-size="22.5" text-anchor="middle" >5</text>
<line x1="456.60" y1="556.40" x2="456.60" y2="553.30" stroke="#000" stroke-width="1.7" />
<line x1="521.20" y1="556.40" x2="521.20" y2="553.30" stroke="#000" stroke-width="1.7" />
<line x1="585.80" y1="556.40" x2="585.80" y2="552.00" stroke="#000" stroke-width="1.7" />
<line x1="650.40" y1="556.40" x2="650.40" y2="553.30" stroke="#000" stroke-width="1.7" />
<line x1="444.20" y1="553.80" x2="448.90" y2="553.80" stroke="#000" stroke-width="1.8" />
<line x1="444.20" y1="531.45" x2="447.00" y2="531.45" stroke="#000" stroke-width="1.8" />
<line x1="444.20" y1="509.10" x2="448.90" y2="509.10" stroke="#000" stroke-width="1.8" />
<text x="438.60" y="517.00" font-size="21.5" text-anchor="end" >4000</text>
<text x="438.60" y="560.90" font-size="21.5" text-anchor="end" >2000</text>
<text x="456.60" y="576.50" font-size="22.5" text-anchor="middle" >0</text>
<text x="585.20" y="576.20" font-size="21.5" text-anchor="middle" >1</text>
<text x="513.14" y="585.40" font-size="27.3" font-style="italic">B</text>
<text x="537.10" y="585.40" font-size="28.2">(T)</text>
<line x1="616.30" y1="333.20" x2="616.30" y2="344.90" stroke="#000" stroke-width="1.5"/>
<path d="M616.30,326.30 L620.00,334.20 L612.60,334.20 Z" fill="#000"/>
<line x1="579.90" y1="428.20" x2="579.90" y2="439.90" stroke="#000" stroke-width="1.6"/>
<path d="M579.90,421.50 L583.75,429.20 L576.05,429.20 Z" fill="#000"/>
<line x1="568.20" y1="514.10" x2="568.20" y2="526.00" stroke="#000" stroke-width="1.6"/>
<path d="M568.20,507.70 L572.10,515.10 L564.30,515.10 Z" fill="#000"/>
<text x="642.50" y="353.10" font-size="21.5">1.80</text>
<text x="642.77" y="450.40" font-size="21.5">0.91</text>
<text x="640.97" y="536.70" font-size="21.5">0.19</text>
<text x="594.57" y="358.10" font-size="25.5" font-style="italic">B</text>
<text x="610.16" y="369.00" font-size="16.5" font-style="italic">C</text>
<text transform="translate(383.00,479.96) rotate(-90)" font-size="30" font-style="italic">ρ</text>
<text transform="translate(382.60,459.88) rotate(-90)" font-size="28.5">(Ω)</text>
</svg>
</div>
</body></html>
